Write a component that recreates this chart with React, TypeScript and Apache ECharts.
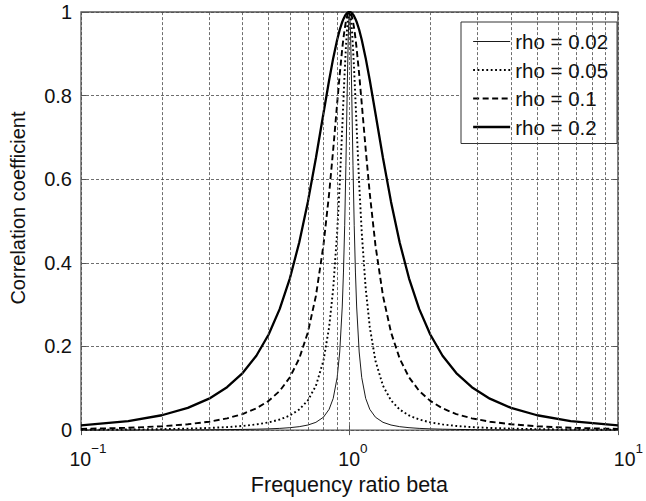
import React, { useEffect, useRef } from "react";
import * as echarts from "echarts";

// Frequency ratio beta (x values)
const BETA = [
  0.1, 0.15, 0.2, 0.25, 0.3, 0.35, 0.4, 0.45, 0.5, 0.55, 0.6, 0.65, 0.7, 0.75, 0.8, 0.84, 0.87, 0.9,
  0.92, 0.94, 0.95, 0.96, 0.97, 0.98, 0.985, 0.99, 0.995, 1, 1.005, 1.0101, 1.0152, 1.0204, 1.0309,
  1.0417, 1.0526, 1.0638, 1.087, 1.1111, 1.1494, 1.1905, 1.25, 1.3333, 1.4286, 1.5385, 1.6667,
  1.8182, 2, 2.2222, 2.5, 2.8571, 3.3333, 4, 5, 6.6667, 10,
];

const RHO_002 = [
  0.0001, 0.0002, 0.0004, 0.0006, 0.0008, 0.0012, 0.0016, 0.0022, 0.003, 0.0041, 0.0058, 0.0082,
  0.0121, 0.0186, 0.0308, 0.0497, 0.0759, 0.1257, 0.1868, 0.2945, 0.378, 0.4897, 0.6329, 0.7967,
  0.875, 0.9406, 0.9845, 1, 0.9845, 0.9406, 0.875, 0.7967, 0.6329, 0.4897, 0.378, 0.2945, 0.1868,
  0.1257, 0.0759, 0.0497, 0.0308, 0.0186, 0.0121, 0.0082, 0.0058, 0.0041, 0.003, 0.0022, 0.0016,
  0.0012, 0.0008, 0.0006, 0.0004, 0.0002, 0.0001,
];

const RHO_005 = [
  0.0007, 0.0014, 0.0023, 0.0035, 0.0051, 0.0072, 0.0099, 0.0136, 0.0185, 0.0253, 0.035, 0.0492,
  0.071, 0.106, 0.1656, 0.2461, 0.339, 0.473, 0.5892, 0.7227, 0.7914, 0.857, 0.915, 0.9607, 0.9776,
  0.99, 0.9975, 1, 0.9975, 0.99, 0.9776, 0.9607, 0.915, 0.857, 0.7914, 0.7227, 0.5892, 0.473, 0.339,
  0.2461, 0.1656, 0.106, 0.071, 0.0492, 0.035, 0.0253, 0.0185, 0.0136, 0.0099, 0.0072, 0.0051,
  0.0035, 0.0023, 0.0014, 0.0007,
];

const RHO_01 = [
  0.0028, 0.0055, 0.0092, 0.014, 0.0201, 0.0281, 0.0384, 0.052, 0.0698, 0.0938, 0.1263, 0.1711,
  0.2336, 0.321, 0.4417, 0.5654, 0.6715, 0.7815, 0.8511, 0.9122, 0.938, 0.9598, 0.9772, 0.9898,
  0.9943, 0.9975, 0.9994, 1, 0.9994, 0.9975, 0.9943, 0.9898, 0.9772, 0.9598, 0.938, 0.9122, 0.8511,
  0.7815, 0.6715, 0.5654, 0.4417, 0.321, 0.2336, 0.1711, 0.1263, 0.0938, 0.0698, 0.052, 0.0384,
  0.0281, 0.0201, 0.014, 0.0092, 0.0055, 0.0028,
];

const RHO_02 = [
  0.0111, 0.0217, 0.0355, 0.0531, 0.0752, 0.1026, 0.1364, 0.1779, 0.2286, 0.2899, 0.3631, 0.4487,
  0.5458, 0.6508, 0.7572, 0.8368, 0.8896, 0.9338, 0.9575, 0.9762, 0.9835, 0.9895, 0.9941, 0.9974,
  0.9985, 0.9994, 0.9998, 1, 0.9998, 0.9994, 0.9985, 0.9974, 0.9941, 0.9895, 0.9835, 0.9762,
  0.9575, 0.9338, 0.8896, 0.8368, 0.7572, 0.6508, 0.5458, 0.4487, 0.3631, 0.2899, 0.2286, 0.1779,
  0.1364, 0.1026, 0.0752, 0.0531, 0.0355, 0.0217, 0.0111,
];

const SERIES_NAMES = ["rho = 0.02", "rho = 0.05", "rho = 0.1", "rho = 0.2"];
const MINOR_GRID_X = [0.2, 0.3, 0.4, 0.5, 0.6, 0.7, 0.8, 0.9, 2, 3, 4, 5, 6, 7, 8, 9];
const X_TICK_EXPONENTS: Record<string, string> = { "-1": "−1", "0": "0", "1": "1" };

const FONT = "'Liberation Sans', Arial, Helvetica, sans-serif";
const GRID_COLOR = "#4a4a4a";
const FRAME_COLOR = "#555";

export default function App() {
  const ref = useRef<HTMLDivElement>(null);

  useEffect(() => {
    if (!ref.current) return;
    const chart = echarts.init(ref.current, undefined, { renderer: "svg" });

    const gridLine = { color: GRID_COLOR, width: 0.8, type: [3, 2] as number[] };

    const styles = [
      { width: 0.9, type: "solid" as any },
      { width: 1.9, type: [1.8, 2.6] as any },
      { width: 1.9, type: [6, 3.5] as any },
      { width: 2.3, type: "solid" as any },
    ];
    const values = [RHO_002, RHO_005, RHO_01, RHO_02];

    const lineSeries = values.map((vals, k) => ({
      name: SERIES_NAMES[k],
      type: "line",
      xAxisIndex: 0,
      yAxisIndex: 0,
      data: BETA.map((b, i) => [b, vals[i]]),
      symbol: "none",
      showSymbol: false,
      z: 3,
      lineStyle: { color: "#000", width: styles[k].width, type: styles[k].type },
      itemStyle: { color: "#000" },
    }));

    const baseTok = (padLeft: number) => ({
      fontFamily: FONT,
      fontSize: 19.5,
      color: "#111",
      lineHeight: 28,
      verticalAlign: "bottom",
      padding: [0, 0, 0, padLeft],
    });

    const option: any = {
      animation: false,
      backgroundColor: "#fff",
      textStyle: { fontFamily: FONT },
      grid: {
        left: 69,
        right: 18,
        top: 12,
        bottom: 59,
        show: true,
        borderColor: FRAME_COLOR,
        borderWidth: 1.3,
        backgroundColor: "transparent",
      },
      legend: {
        data: SERIES_NAMES.map((name, k) => ({
          name,
          lineStyle: { width: styles[k].width, type: styles[k].type, color: "#000" },
        })),
        orient: "vertical",
        left: 461,
        top: 22,
        padding: [9, 9, 6, 11],
        itemGap: 7.5,
        itemWidth: 37,
        itemHeight: 14,
        itemTextGap: 8,
        backgroundColor: "#fff",
        borderColor: "#333",
        borderWidth: 1,
        borderRadius: 0,
        itemStyle: { opacity: 0, color: "transparent", borderWidth: 0 },
        textStyle: { fontFamily: FONT, fontSize: 20.5, color: "#111" },
      },
      xAxis: [
        {
          type: "log",
          logBase: 10,
          min: 0.1,
          max: 10,
          position: "bottom",
          name: "Frequency ratio beta",
          nameLocation: "middle",
          nameGap: 31,
          nameTextStyle: { fontFamily: FONT, fontSize: 21.5, color: "#111" },
          axisLine: { show: false },
          axisTick: { show: true, inside: true, length: 5, lineStyle: { color: FRAME_COLOR } },
          splitLine: { show: true, lineStyle: gridLine },
          axisLabel: {
            margin: 11,
            alignMinLabel: "center",
            alignMaxLabel: "center",
            hideOverlap: false,
            formatter: (v: number) => {
              const e = String(Math.round(Math.log10(v)));
              const sup = X_TICK_EXPONENTS[e] ?? e;
              if (e === "-1") return "{bm|10}{s|" + sup + "}";
              if (e === "1") return "{bp|10}{s|" + sup + "}";
              return "{b|10}{s|" + sup + "}";
            },
            rich: {
              bm: baseTok(14),
              b: baseTok(7),
              bp: baseTok(21),
              s: { fontFamily: FONT, fontSize: 13.5, color: "#111", lineHeight: 12, verticalAlign: "top" },
            },
          },
        },
        {
          type: "log",
          logBase: 10,
          min: 0.1,
          max: 10,
          position: "top",
          axisLine: { show: false },
          axisTick: { show: true, inside: true, length: 5, lineStyle: { color: FRAME_COLOR } },
          axisLabel: { show: false },
          splitLine: { show: false },
        },
      ],
      yAxis: [
        {
          type: "value",
          min: 0,
          max: 1,
          interval: 0.2,
          position: "left",
          name: "Correlation coefficient",
          nameLocation: "middle",
          nameGap: 53,
          nameTextStyle: { fontFamily: FONT, fontSize: 20, color: "#111", padding: [0, 0, 0, 26] },
          axisLine: { show: false },
          axisTick: { show: true, inside: true, length: 5, lineStyle: { color: FRAME_COLOR } },
          splitLine: { show: true, lineStyle: gridLine },
          axisLabel: {
            margin: 9,
            fontFamily: FONT,
            fontSize: 20,
            color: "#111",
            formatter: (v: number) => String(Math.round(v * 10) / 10),
          },
        },
        {
          type: "value",
          min: 0,
          max: 1,
          interval: 0.2,
          position: "right",
          axisLine: { show: false },
          axisTick: { show: true, inside: true, length: 5, lineStyle: { color: FRAME_COLOR } },
          axisLabel: { show: false },
          splitLine: { show: false },
        },
      ],
      series: [
        {
          name: "minor-grid",
          type: "line",
          xAxisIndex: 0,
          yAxisIndex: 0,
          data: [],
          z: 1,
          silent: true,
          markLine: {
            silent: true,
            symbol: ["none", "none"],
            label: { show: false },
            lineStyle: gridLine,
            emphasis: { disabled: true },
            data: MINOR_GRID_X.map((x) => ({ xAxis: x })),
          },
        },
        ...lineSeries,
      ],
    };

    chart.setOption(option);
    return () => chart.dispose();
  }, []);

  return (
    <div
      ref={ref}
      style={{ position: "fixed", left: 0, top: 0, width: 646, height: 501, background: "#fff" }}
    />
  );
}
